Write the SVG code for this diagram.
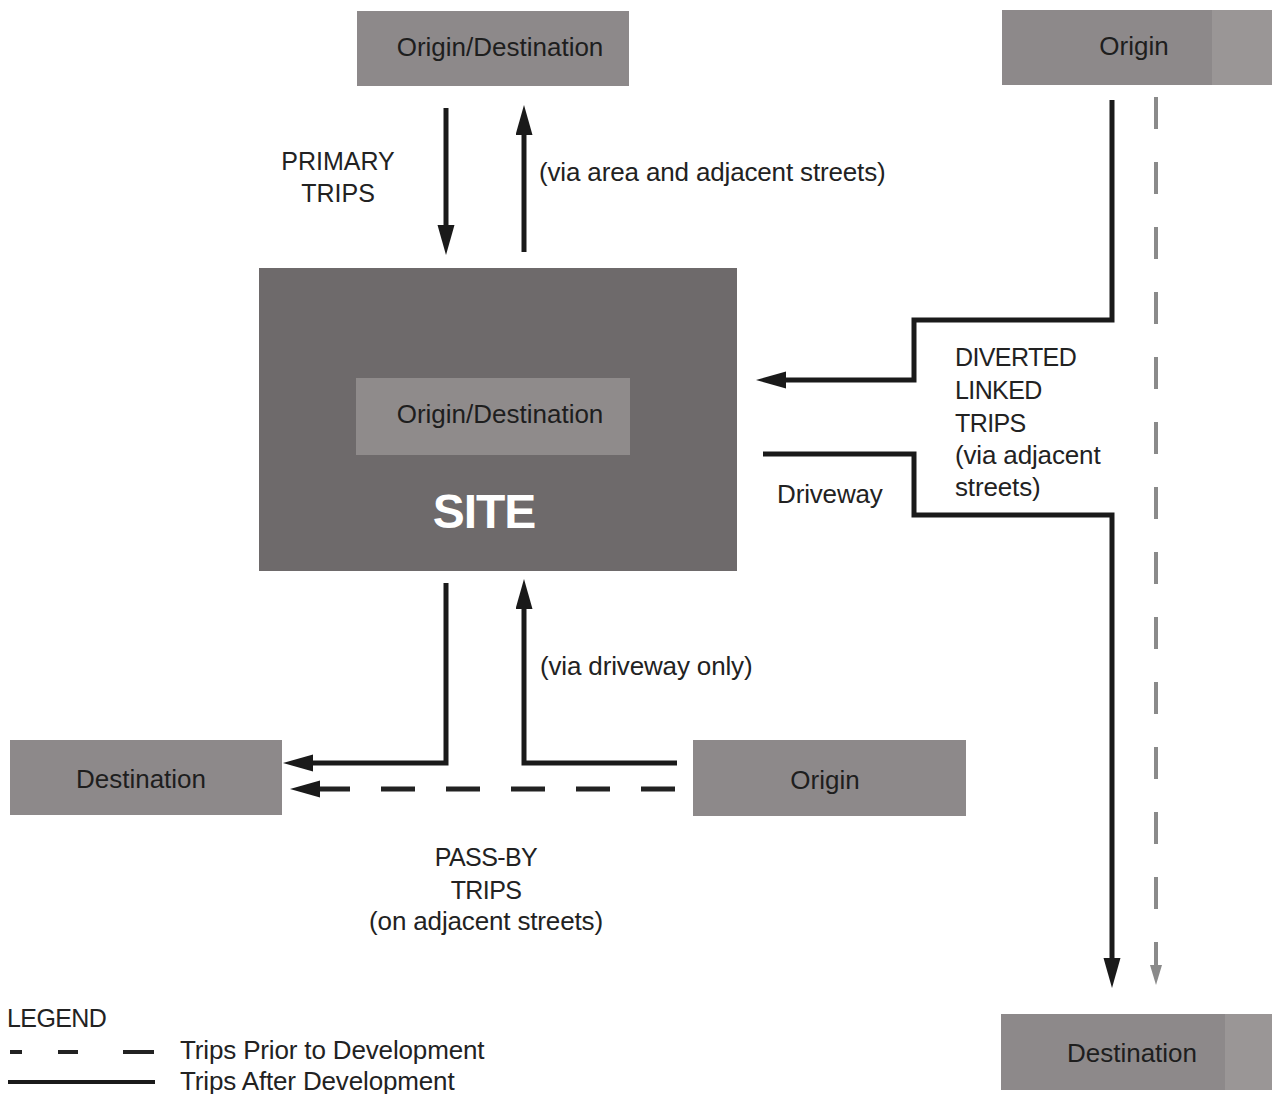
<svg xmlns="http://www.w3.org/2000/svg" width="1272" height="1094" viewBox="0 0 1272 1094">
<style>
.box{fill:#8d898a}
.site{fill:#6e6a6b}
.inner{fill:#8f8b8b}
.t{font-family:"Liberation Sans",Arial,sans-serif;font-size:25px;fill:#222}
.l{font-family:"Liberation Sans",Arial,sans-serif;font-size:26px;fill:#222;letter-spacing:-0.15px}
.bt{font-family:"Liberation Sans",Arial,sans-serif;font-size:26px;fill:#1e1e1e;text-anchor:middle}
.c{text-anchor:middle}
.solid{fill:none;stroke:#1a1a1a;stroke-width:5}
.dash{fill:none;stroke:#222;stroke-width:5;stroke-dasharray:34 31}
.gdash{fill:none;stroke:#8a8a8a;stroke-width:4;stroke-dasharray:32 33}
</style>
<defs>
<marker id="arr" markerUnits="userSpaceOnUse" markerWidth="32" markerHeight="18" refX="10" refY="8.5" orient="auto">
<path d="M0,0 L30,8.5 L0,17 z" fill="#1a1a1a"/>
</marker>
<marker id="garr" markerUnits="userSpaceOnUse" markerWidth="22" markerHeight="14" refX="6" refY="6" orient="auto">
<path d="M0,0 L20,6 L0,12 z" fill="#8a8a8a"/>
</marker>
</defs>
<rect width="1272" height="1094" fill="#ffffff"/>

<g id="top-od">
<rect class="box" x="357" y="11" width="272" height="75"/>
<text class="bt" x="500" y="56">Origin/Destination</text>
</g>
<g id="origin-right">
<rect class="box" x="1002" y="10" width="270" height="75"/>
<rect x="1212" y="10" width="60" height="75" fill="#9a9696"/>
<text class="bt" x="1134" y="55">Origin</text>
</g>
<g id="site">
<rect class="site" x="259" y="268" width="478" height="303"/>
<rect class="inner" x="356" y="378" width="274" height="77"/>
<text class="bt" x="500" y="423">Origin/Destination</text>
<text x="484" y="528" font-family="Liberation Sans,Arial,sans-serif" font-size="48" font-weight="bold" fill="#ffffff" text-anchor="middle" letter-spacing="-1">SITE</text>
</g>
<g id="dest-left">
<rect class="box" x="10" y="740" width="272" height="75"/>
<text class="bt" x="141" y="788">Destination</text>
</g>
<g id="origin-bottom">
<rect class="box" x="693" y="740" width="273" height="76"/>
<text class="bt" x="825" y="789">Origin</text>
</g>
<g id="dest-right">
<rect class="box" x="1001" y="1014" width="271" height="76"/>
<rect x="1225" y="1014" width="47" height="76" fill="#9a9696"/>
<text class="bt" x="1132" y="1062">Destination</text>
</g>

<g id="connectors">
<path class="solid" d="M446,108 V235" marker-end="url(#arr)"/>
<path class="solid" d="M524,252 V125" marker-end="url(#arr)"/>
<path class="solid" d="M446,583 V763 H303" marker-end="url(#arr)"/>
<path class="solid" d="M677,763 H524 V599" marker-end="url(#arr)"/>
<path class="dash" d="M675,789 H310" marker-end="url(#arr)"/>
<path class="solid" d="M1112,100 V320 H914 V380 H776" marker-end="url(#arr)"/>
<path class="solid" d="M763,454 H914 V515 H1112 V968" marker-end="url(#arr)"/>
<path class="gdash" d="M1156,97 V971" marker-end="url(#garr)"/>
</g>

<g id="labels">
<text class="t c" x="338" y="170">PRIMARY</text>
<text class="t c" x="338" y="202">TRIPS</text>
<text class="l" x="539" y="181">(via area and adjacent streets)</text>
<text class="t" x="955" y="366" letter-spacing="-0.6">DIVERTED</text>
<text class="t" x="955" y="399" letter-spacing="-0.6">LINKED</text>
<text class="t" x="955" y="432" letter-spacing="-0.6">TRIPS</text>
<text class="l" x="955" y="464">(via adjacent</text>
<text class="l" x="955" y="496">streets)</text>
<text class="l" x="777" y="503">Driveway</text>
<text class="l" x="540" y="675">(via driveway only)</text>
<text class="t c" x="486" y="866" letter-spacing="-0.6">PASS-BY</text>
<text class="t c" x="486" y="899" letter-spacing="-0.6">TRIPS</text>
<text class="l c" x="486" y="930">(on adjacent streets)</text>
</g>

<g id="legend">
<text class="t" x="7" y="1027" letter-spacing="-0.6">LEGEND</text>
<path d="M10,1052 H22 M58,1052 H78 M123,1052 H154" stroke="#222" stroke-width="4" fill="none"/>
<path d="M8,1082 H155" stroke="#1a1a1a" stroke-width="4" fill="none"/>
<text class="l" x="180" y="1059">Trips Prior to Development</text>
<text class="l" x="180" y="1090">Trips After Development</text>
</g>
</svg>
